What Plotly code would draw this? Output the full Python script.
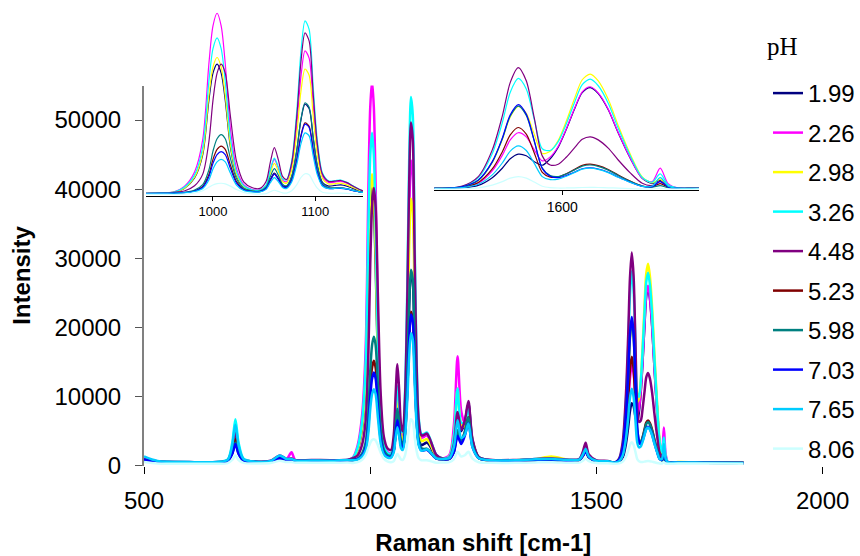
import plotly.graph_objects as go

# Raman shift axis (cm-1): sparse outside the band regions, dense inside them
raman_shift = (
    [500, 530, 600, 660, 685, 695, 702, 709, 720, 745, 780, 800, 815, 826, 835, 870, 920, 950]
    + [962, 972, 982, 990, 996, 1000, 1004, 1008, 1012, 1017, 1023, 1030, 1038, 1046, 1052, 1056,
       1060, 1064, 1068, 1072, 1077, 1082, 1086, 1090, 1094, 1098, 1102, 1107, 1113, 1119, 1125,
       1131, 1138, 1146]
    + [1160, 1175, 1185, 1193, 1201, 1209, 1217, 1226, 1240, 1270, 1320, 1365, 1400, 1440, 1462,
       1470, 1476, 1483, 1500, 1525]
    + [1540, 1550, 1558, 1565, 1570, 1574, 1578, 1582, 1586, 1590, 1594, 1598, 1602, 1606, 1610,
       1614, 1618, 1623, 1628, 1634, 1640, 1645, 1649, 1653, 1658, 1665]
    + [1680, 1740, 1825]
)

ph_1_99 = (
    [800, 500, 400, 420, 680, 1850, 3500, 1850, 740, 520, 580, 1000, 800, 850, 650, 680, 620, 720]
    + [1050, 2230, 5390, 12500, 29090, 37390, 40150, 37390, 29090, 14870, 6180, 2630, 1560, 1410,
       2150, 4850, 6920, 5260, 3150, 2890, 5800, 13870, 23040, 27950, 26590, 17580, 9200, 4100,
       2940, 3120, 3320, 2930, 2090, 1250]
    + [1000, 1130, 3080, 7690, 4960, 6260, 8930, 3660, 1190, 700, 650, 800, 850, 700, 800, 1500,
       2300, 1300, 600, 550]
    + [400, 550, 1160, 3090, 5470, 7850, 9020, 8610, 7120, 6240, 7870, 10790, 15210, 20210, 24530,
       25800, 24280, 20210, 14370, 8020, 2940, 1640, 2410, 950, 430, 400]
    + [450, 380, 350]
)
ph_2_26 = (
    [900, 550, 450, 460, 770, 2520, 5000, 2520, 860, 540, 620, 1150, 900, 1900, 700, 720, 660, 760]
    + [1200, 2850, 7250, 17150, 40250, 51800, 55650, 51800, 40250, 20450, 8350, 3400, 1950, 1800,
       3150, 7650, 11090, 8300, 4760, 4260, 8880, 21730, 36320, 44150, 41980, 27620, 14200, 5990,
       4040, 4160, 4390, 3790, 2630, 1480]
    + [1000, 1540, 5950, 15800, 7880, 6160, 7540, 3190, 1100, 700, 700, 850, 950, 750, 850, 1700,
       2500, 1400, 650, 600]
    + [400, 660, 1700, 4820, 8710, 12610, 14420, 13380, 10110, 7350, 8350, 11030, 15380, 20370,
       24720, 26000, 24460, 20370, 14480, 8080, 2960, 2110, 5510, 1580, 490, 400]
    + [450, 400, 350]
)
ph_2_98 = (
    [900, 560, 460, 470, 780, 2620, 5200, 2620, 880, 540, 620, 1200, 880, 950, 720, 720, 680, 780]
    + [1070, 2310, 5630, 13100, 30530, 39250, 42150, 39250, 30530, 15590, 6460, 2730, 1660, 1590,
       2850, 6810, 9830, 7380, 4250, 3810, 7840, 19070, 31810, 38650, 36750, 24210, 12470, 5290,
       3570, 3650, 3830, 3310, 2330, 1350]
    + [950, 1300, 4300, 11100, 6000, 5600, 7300, 3100, 1100, 700, 750, 900, 1300, 800, 850, 1600,
       2400, 1300, 650, 600]
    + [400, 790, 2350, 6930, 12680, 18420, 21050, 19290, 14010, 9200, 9740, 12510, 17300, 22860,
       27760, 29200, 27470, 22860, 16240, 9040, 3280, 1810, 2680, 1030, 430, 400]
    + [500, 420, 400]
)
ph_3_26 = (
    [1000, 600, 480, 480, 870, 3290, 6700, 3290, 1000, 560, 640, 1250, 900, 950, 720, 720, 680, 780]
    + [1130, 2550, 6350, 14900, 34850, 44830, 48150, 44830, 34850, 17750, 7300, 3030, 1810, 1740,
       3230, 7860, 11480, 8650, 5120, 4840, 10550, 26150, 43860, 53350, 50720, 33320, 17000, 7000,
       4560, 4580, 4780, 4070, 2810, 1550]
    + [1000, 1300, 4300, 11150, 6200, 6200, 8300, 3450, 1150, 750, 750, 950, 1000, 800, 900, 1900,
       2900, 1500, 700, 600]
    + [400, 930, 3060, 9190, 16910, 24630, 28100, 25460, 17780, 10400, 9950, 12200, 16620, 21850,
       26530, 27900, 26250, 21850, 15530, 8650, 3150, 1970, 4050, 1300, 460, 400]
    + [450, 400, 350]
)
ph_4_48 = (
    [950, 600, 500, 500, 760, 2440, 4800, 2440, 840, 580, 700, 1450, 950, 1000, 780, 800, 760, 850]
    + [1050, 1440, 3020, 6580, 16450, 29090, 37390, 40150, 37390, 24350, 10530, 4210, 2500, 2250,
       4420, 10100, 14640, 10840, 5900, 4940, 10010, 24440, 40830, 49650, 47200, 31030, 15880,
       6600, 4360, 4430, 4640, 3980, 2750, 1530]
    + [1000, 1130, 3080, 7740, 5160, 6500, 9330, 3800, 1210, 800, 800, 950, 1000, 850, 950, 2000,
       3300, 1600, 750, 650]
    + [400, 1000, 3390, 10100, 18600, 27100, 30820, 27490, 18150, 8590, 6300, 6500, 8240, 10540,
       12750, 13400, 12620, 10540, 7550, 4300, 1700, 1150, 2160, 830, 430, 400]
    + [480, 420, 380]
)
ph_5_23 = (
    [700, 450, 380, 400, 700, 1990, 3800, 1990, 760, 500, 560, 1000, 780, 820, 640, 660, 620, 700]
    + [800, 940, 1520, 2830, 6450, 11090, 14140, 15150, 14140, 9350, 4280, 1960, 1350, 1290, 2250,
       4710, 6670, 5030, 2920, 2530, 4770, 11130, 18360, 22250, 21170, 14040, 7360, 3260, 2260,
       2280, 2370, 2080, 1550, 1030]
    + [900, 980, 2030, 4600, 3400, 4820, 6980, 2970, 1100, 700, 700, 800, 850, 700, 800, 1400,
       2100, 1200, 600, 550]
    + [400, 700, 1910, 5290, 9580, 13870, 15740, 14050, 9320, 4460, 3260, 3290, 4090, 5160, 6200,
       6500, 6130, 5160, 3760, 2230, 1010, 810, 1620, 680, 420, 400]
    + [420, 380, 350]
)
ph_5_98 = (
    [750, 480, 400, 420, 670, 1760, 3300, 1760, 720, 500, 560, 1000, 780, 820, 640, 660, 620, 700]
    + [830, 1010, 1730, 3350, 7850, 13610, 17390, 18650, 17390, 11450, 5150, 2270, 1520, 1450,
       2660, 5760, 8230, 6180, 3530, 3040, 5930, 14090, 23360, 28350, 26970, 17820, 9190, 3870,
       2510, 2400, 2430, 2080, 1550, 1030]
    + [900, 1000, 2200, 5100, 3600, 4880, 7000, 2980, 1100, 700, 700, 800, 850, 700, 800, 1400,
       2100, 1200, 600, 550]
    + [400, 810, 2450, 7020, 12820, 18620, 21140, 18790, 12270, 5500, 3630, 3380, 4030, 5000, 6010,
       6300, 5950, 5000, 3650, 2170, 990, 730, 1120, 580, 410, 400]
    + [420, 380, 350]
)
ph_7_03 = (
    [850, 520, 420, 430, 660, 1670, 3100, 1670, 710, 510, 580, 1050, 800, 850, 660, 680, 640, 720]
    + [780, 910, 1420, 2570, 5770, 9870, 12550, 13450, 12550, 8330, 3850, 1800, 1280, 1250, 2200,
       4640, 6560, 4960, 2880, 2490, 4690, 10940, 18030, 21850, 20790, 13790, 7220, 3190, 2200,
       2190, 2260, 1980, 1490, 1000]
    + [900, 960, 1920, 4260, 3120, 4300, 6160, 2680, 1060, 700, 700, 800, 850, 700, 800, 1400,
       2000, 1200, 600, 550]
    + [400, 820, 2490, 7140, 13040, 18950, 21510, 19100, 12420, 5460, 3480, 3110, 3630, 4460, 5340,
       5600, 5290, 4460, 3260, 1960, 920, 850, 2100, 770, 430, 400]
    + [450, 380, 350]
)
ph_7_65 = (
    [1300, 650, 500, 500, 820, 2930, 5900, 2930, 930, 560, 650, 1450, 950, 950, 720, 720, 700, 800]
    + [750, 860, 1270, 2210, 4810, 8140, 10320, 11050, 10320, 6890, 3250, 1590, 1160, 1140, 1930,
       3940, 5540, 4220, 2520, 2230, 4170, 9620, 15820, 19150, 18230, 12120, 6430, 2950, 2140,
       2220, 2340, 2080, 1550, 1030]
    + [950, 1080, 2730, 6550, 4000, 4460, 6080, 2660, 1050, 750, 750, 900, 950, 800, 850, 1600,
       2400, 1300, 650, 600]
    + [400, 610, 1450, 3810, 6800, 9790, 11100, 9950, 6690, 3370, 2620, 2760, 3460, 4380, 5250,
       5500, 5190, 4380, 3210, 1930, 910, 990, 3100, 970, 450, 400]
    + [450, 400, 350]
)
ph_8_06 = (
    [500, 300, 250, 250, 350, 800, 1450, 800, 380, 300, 350, 700, 500, 500, 400, 400, 380, 420]
    + [370, 480, 830, 1530, 2580, 3280, 3700, 3800, 3630, 2930, 1880, 1000, 610, 480, 630, 1210,
       1660, 1310, 860, 810, 1500, 3370, 5550, 6700, 6380, 4270, 2280, 1060, 760, 750, 760, 680,
       540, 400]
    + [450, 480, 930, 1980, 1300, 1480, 1980, 1000, 480, 380, 380, 450, 480, 400, 420, 700, 1000,
       650, 350, 320]
    + [250, 310, 560, 1240, 2110, 2990, 3370, 3000, 2000, 940, 610, 500, 510, 560, 630, 650, 630,
       560, 470, 370, 290, 300, 460, 290, 250, 250]
    + [300, 280, 250]
)

ph_labels = ["1.99", "2.26", "2.98", "3.26", "4.48", "5.23", "5.98", "7.03", "7.65", "8.06"]
series_colors = ["#000080", "#FF00FF", "#FFFF00", "#00FFFF", "#800080",
                 "#800000", "#008080", "#0000FF", "#00CCFF", "#CCFFFF"]
spectra = [ph_1_99, ph_2_26, ph_2_98, ph_3_26, ph_4_48,
           ph_5_23, ph_5_98, ph_7_03, ph_7_65, ph_8_06]

main_x_ticks = [500, 1000, 1500, 2000]
main_y_ticks = [0, 10000, 20000, 30000, 40000, 50000]
main_y_ticktext = ["0", "10000", "20000", "30000", "40000", "50000"]
inset_low_ticks = [1000, 1100]
inset_high_ticks = [1600]

SANS = "Liberation Sans, Arial, sans-serif"
SERIF = "Liberation Serif, Times New Roman, serif"
W, H = 860, 556

fig = go.Figure()

# full spectra on the main axes
for label, color, y in zip(ph_labels, series_colors, spectra):
    fig.add_trace(go.Scatter(
        x=raman_shift, y=y, mode="lines", name=label, legendgroup=label,
        line=dict(color=color, width=2.5, shape="spline", smoothing=0.8),
        xaxis="x", yaxis="y", hoverinfo="skip",
    ))

# the same spectra in the two magnified windows
for axes in (("x2", "y2"), ("x3", "y3")):
    for label, color, y in zip(ph_labels, series_colors, spectra):
        fig.add_trace(go.Scatter(
            x=raman_shift, y=y, mode="lines", name=label, legendgroup=label,
            showlegend=False,
            line=dict(color=color, width=1.2, shape="spline", smoothing=0.8),
            xaxis=axes[0], yaxis=axes[1], hoverinfo="skip",
        ))


def px_x(p):
    return p / W


def px_y(p):
    return (H - p) / H


fig.update_layout(
    width=W, height=H,
    margin=dict(l=0, r=0, t=0, b=0),
    paper_bgcolor="white", plot_bgcolor="rgba(0,0,0,0)",
    font=dict(family=SANS, size=24, color="black"),
    showlegend=True,
    legend=dict(
        x=px_x(768), y=px_y(71), xanchor="left", yanchor="top",
        font=dict(family=SANS, size=24, color="black"),
        tracegroupgap=5.3, bgcolor="rgba(0,0,0,0)", borderwidth=0,
    ),
    annotations=[dict(
        text="pH", x=px_x(782), y=px_y(46), xref="paper", yref="paper",
        xanchor="center", yanchor="middle", showarrow=False,
        font=dict(family=SERIF, size=25, color="black"),
    )],
    xaxis=dict(
        domain=[px_x(144), px_x(822.7)], range=[500, 2000], anchor="y",
        tickvals=main_x_ticks, ticks="outside", ticklen=7, tickcolor="black",
        showline=False, showgrid=False, zeroline=False, automargin=False,
        tickfont=dict(size=24), ticklabelstandoff=7,
        title=dict(text="<b>Raman shift [cm-1]</b>", standoff=24,
                   font=dict(family=SANS, size=24)),
    ),
    yaxis=dict(
        domain=[px_y(465.5), px_y(85.5)], range=[0, 55000], anchor="x",
        tickvals=main_y_ticks, ticktext=main_y_ticktext, ticks="outside", ticklen=7,
        tickcolor="#555555", showline=True, linecolor="#808080", linewidth=2,
        showgrid=False, zeroline=False, automargin=False,
        tickfont=dict(size=24), ticklabelstandoff=9,
        title=dict(text="<b>Intensity</b>", standoff=17,
                   font=dict(family=SANS, size=24)),
    ),
    xaxis2=dict(
        domain=[px_x(146), px_x(363)], range=[934.5, 1146.7], anchor="y2",
        tickvals=inset_low_ticks, ticks="outside", ticklen=4, tickcolor="black",
        showline=True, linecolor="black", linewidth=1,
        showgrid=False, zeroline=False, automargin=False,
        tickfont=dict(size=13),
    ),
    yaxis2=dict(
        domain=[px_y(195.7), px_y(12.1)], range=[0, 56000], anchor="x2",
        visible=False, automargin=False,
    ),
    xaxis3=dict(
        domain=[px_x(434.3), px_x(699)], range=[1536, 1668.4], anchor="y3",
        tickvals=inset_high_ticks, ticks="outside", ticklen=4, tickcolor="black",
        showline=True, linecolor="black", linewidth=1,
        showgrid=False, zeroline=False, automargin=False,
        tickfont=dict(size=14),
    ),
    yaxis3=dict(
        domain=[px_y(190), px_y(51)], range=[0, 35000], anchor="x3",
        visible=False, automargin=False,
    ),
)

fig.write_html("out.html")
